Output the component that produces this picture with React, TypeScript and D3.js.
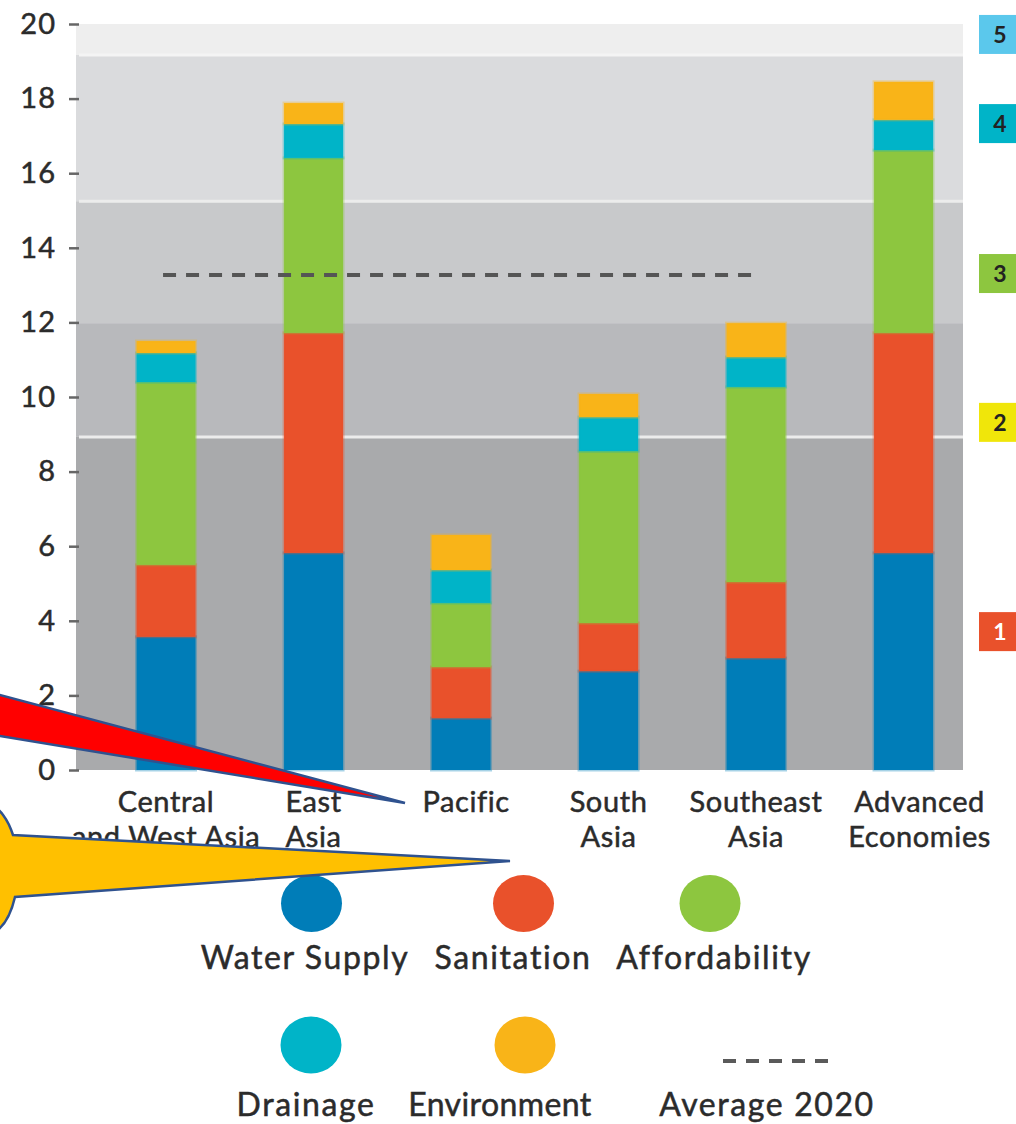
import React, { useEffect, useRef } from 'react'
import * as d3 from 'd3'

// categories
const regions = ['Central and West Asia', 'East Asia', 'Pacific', 'South Asia', 'Southeast Asia', 'Advanced Economies']
const regionLines = [['Central', 'and West Asia'], ['East', 'Asia'], ['Pacific'], ['South', 'Asia'], ['Southeast', 'Asia'], ['Advanced', 'Economies']]

// series values (score contribution per dimension)
const waterSupply = [3.57, 5.82, 1.39, 2.65, 3.0, 5.82]
const sanitation = [1.93, 5.9, 1.37, 1.29, 2.04, 5.9]
const affordability = [4.9, 4.69, 1.72, 4.61, 5.23, 4.9]
const drainage = [0.78, 0.91, 0.88, 0.91, 0.8, 0.81]
const environment = [0.32, 0.56, 0.94, 0.62, 0.91, 1.02]
const average2020 = 13.27

const seriesNames = ['Water Supply', 'Sanitation', 'Affordability', 'Drainage', 'Environment']
const seriesColors = ['#007db8', '#e9512b', '#8dc63f', '#00b4c8', '#f9b418']

const yTicks = [0, 2, 4, 6, 8, 10, 12, 14, 16, 18, 20]

// key water security stages (background bands)
const stageBreaks = [0, 8.93, 11.98, 15.25, 19.17, 20]
const stageLabels = ['1', '2', '3', '4', '5']
const stageLabelAt = [3.71, 9.32, 13.31, 17.33, 19.72]
const stageColors = ['#e9512b', '#f0e60a', '#8dc63f', '#00b4c8', '#5bc8ec']
const bandColors = ['#a9aaac', '#b8b9bc', '#c8c9cb', '#dadbdd', '#eeeeee']

const W = 1016
const H = 1124
const font = 'Lato, "Open Sans", sans-serif'
const ink = '#2b2b2b'

export default function App() {
    const ref = useRef<SVGSVGElement>(null)

    useEffect(() => {
        const svg = d3.select(ref.current)
        svg.selectAll('*').remove()

        const x = d3.scaleBand().domain(regions).range([92.3, 977.3]).paddingInner(0.6).paddingOuter(0.3)
        const y = d3.scaleLinear().domain([0, 20]).range([770, 24])
        const plotLeft = 76
        const plotRight = 963

        // background bands
        svg.append('g')
            .selectAll('rect')
            .data(bandColors)
            .join('rect')
            .attr('x', plotLeft)
            .attr('width', plotRight - plotLeft)
            .attr('y', (d, i) => y(stageBreaks[i + 1]))
            .attr('height', (d, i) => y(stageBreaks[i]) - y(stageBreaks[i + 1]))
            .attr('fill', (d) => d)

        // separator lines between some bands
        const seps = [
            { v: stageBreaks[1], c: '#ececec' },
            { v: stageBreaks[3], c: '#ececec' },
            { v: stageBreaks[4], c: '#f4f4f4' },
        ]
        svg.append('g')
            .selectAll('line')
            .data(seps)
            .join('line')
            .attr('x1', plotLeft + 3)
            .attr('x2', plotRight)
            .attr('y1', (d) => y(d.v))
            .attr('y2', (d) => y(d.v))
            .attr('stroke', (d) => d.c)
            .attr('stroke-width', 3)

        // stacked bars
        const rows = regions.map((r, i) => ({
            region: r,
            'Water Supply': waterSupply[i],
            'Sanitation': sanitation[i],
            'Affordability': affordability[i],
            'Drainage': drainage[i],
            'Environment': environment[i],
        }))
        const stacked = d3.stack<any>().keys(seriesNames)(rows)
        const color = d3.scaleOrdinal<string>().domain(seriesNames).range(seriesColors)

        svg.append('g')
            .selectAll('g')
            .data(stacked)
            .join('g')
            .attr('fill', (s) => color(s.key))
            .attr('stroke', (s) => color(s.key))
            .attr('stroke-opacity', 0.35)
            .attr('stroke-width', 3)
            .selectAll('rect')
            .data((s) => s)
            .join('rect')
            .attr('x', (d: any) => x(d.data.region)!)
            .attr('width', x.bandwidth())
            .attr('y', (d) => y(d[1]))
            .attr('height', (d) => y(d[0]) - y(d[1]))

        // average 2020 dashed line
        svg.append('line')
            .attr('x1', x(regions[0])! + x.bandwidth() / 2 - 3)
            .attr('x2', x(regions[4])! + x.bandwidth() / 2 - 3)
            .attr('y1', y(average2020))
            .attr('y2', y(average2020))
            .attr('stroke', '#555')
            .attr('stroke-width', 4)
            .attr('stroke-dasharray', '13 10')

        // y axis
        const yAxis = svg.append('g')
            .attr('transform', 'translate(79,0)')
            .call(d3.axisLeft(y).tickValues(yTicks).tickSize(10).tickPadding(13))
        yAxis.select('.domain').remove()
        yAxis.selectAll('.tick line').attr('stroke', '#666').attr('stroke-width', 2.5)
        yAxis.selectAll('.tick text')
            .attr('fill', ink)
            .attr('stroke', ink)
            .attr('stroke-width', 0.5)
            .style('font-family', font)
            .style('font-size', '29px')
            .style('letter-spacing', '1px')

        // x labels (last one sits a little right of its bar in the original)
        const xl = svg.append('g')
            .selectAll('text')
            .data(regionLines)
            .join('text')
            .attr('text-anchor', 'middle')
            .attr('fill', ink)
            .attr('stroke', ink)
            .attr('stroke-width', 0.5)
            .style('font-family', font)
            .style('font-size', '29px')
            .style('letter-spacing', '0.6px')
            .attr('transform', (d, i) => `translate(${x(regions[i])! + x.bandwidth() / 2 + (i === regions.length - 1 ? 16 : i === 2 ? 5 : 0)},0)`)
        xl.selectAll('tspan')
            .data((d) => d)
            .join('tspan')
            .attr('x', 0)
            .attr('y', (d, i) => 812 + i * 35)
            .text((d) => d)

        // stage boxes on the right
        const st = svg.append('g')
            .selectAll('g')
            .data(stageLabels)
            .join('g')
            .attr('transform', (d, i) => `translate(979,${y(stageLabelAt[i])})`)
        st.append('rect')
            .attr('y', -19.5)
            .attr('width', 44)
            .attr('height', 39)
            .attr('fill', (d, i) => stageColors[i])
        st.append('text')
            .attr('x', 21)
            .attr('dy', '0.36em')
            .attr('text-anchor', 'middle')
            .attr('fill', (d, i) => (i === 0 ? '#fff' : '#222'))
            .style('font-family', font)
            .style('font-weight', 700)
            .style('font-size', '23px')
            .text((d) => d)

        // legend
        const legendItems = [
            { name: seriesNames[0], cx: 311.5, cy: 903.5, tx: 305, ty: 969 },
            { name: seriesNames[1], cx: 523.5, cy: 903.5, tx: 513, ty: 969 },
            { name: seriesNames[2], cx: 710, cy: 903.5, tx: 714, ty: 969 },
            { name: seriesNames[3], cx: 311, cy: 1045, tx: 306, ty: 1116 },
            { name: seriesNames[4], cx: 525, cy: 1045, tx: 500, ty: 1116 },
        ]
        const lg = svg.append('g')
        lg.selectAll('ellipse')
            .data(legendItems)
            .join('ellipse')
            .attr('cx', (d) => d.cx)
            .attr('cy', (d) => d.cy)
            .attr('rx', 30.5)
            .attr('ry', 28.5)
            .attr('fill', (d) => color(d.name))
        lg.append('line')
            .attr('x1', 723)
            .attr('x2', 830)
            .attr('y1', 1061)
            .attr('y2', 1061)
            .attr('stroke', '#5a5a5a')
            .attr('stroke-width', 4)
            .attr('stroke-dasharray', '13 10')
        const lgText = [...legendItems.map((d) => ({ t: d.name, x: d.tx, y: d.ty })), { t: 'Average 2020', x: 767, y: 1116 }]
        lg.selectAll('text')
            .data(lgText)
            .join('text')
            .attr('x', (d) => d.x)
            .attr('y', (d) => d.y)
            .attr('text-anchor', 'middle')
            .attr('fill', ink)
            .attr('stroke', ink)
            .attr('stroke-width', 0.5)
            .style('font-family', font)
            .style('font-size', '32px')
            .style('letter-spacing', (d) => (d.t === 'Environment' ? '0.4px' : '1.6px'))
            .text((d) => d.t)

        // callout shapes overlaid on the figure
        svg.append('path')
            .attr('d', 'M-10,692.3 L405,803 L-10,734.3 Z')
            .attr('fill', '#ff0000')
            .attr('stroke', '#2f528f')
            .attr('stroke-width', 2.5)
        svg.append('path')
            .attr('d', 'M510,861 L13,835 A34,66 0 1 0 15,897 Z')
            .attr('fill', '#ffc000')
            .attr('stroke', '#2f528f')
            .attr('stroke-width', 2.5)
    }, [])

    return (
        <svg
            ref={ref}
            width={W}
            height={H}
            style={{ position: 'absolute', left: 0, top: 0, background: '#fff' }}
        />
    )
}
